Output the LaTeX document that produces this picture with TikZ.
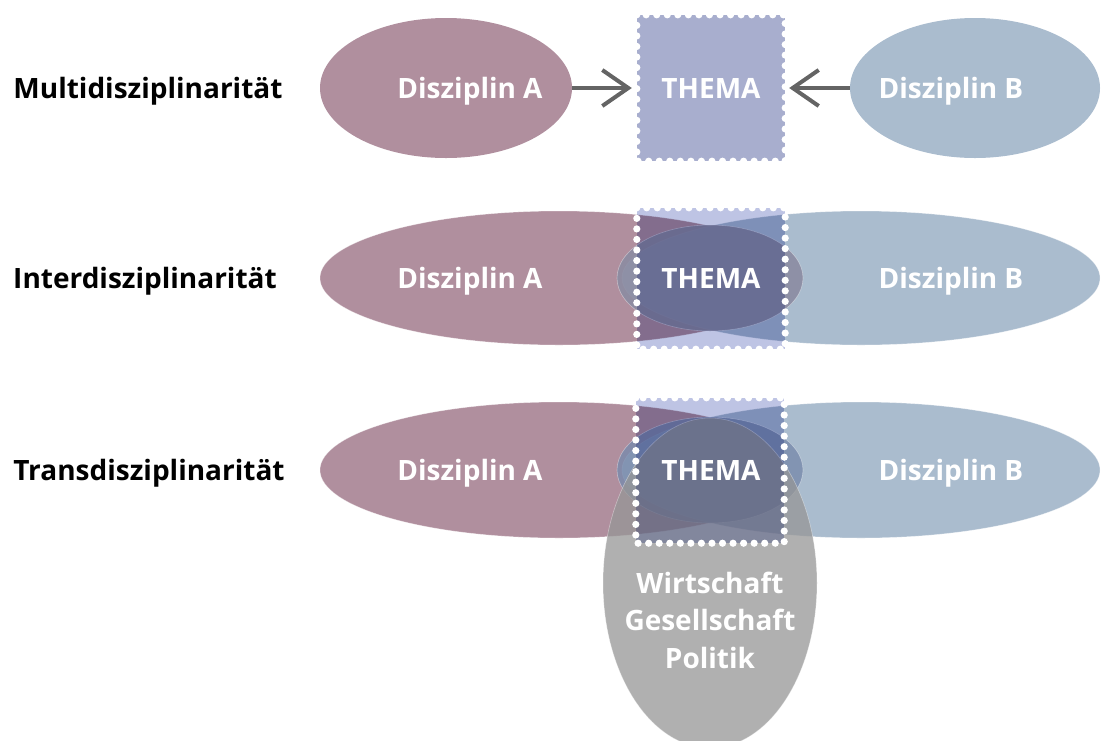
\documentclass[tikz,border=0pt]{standalone}
\usepackage{fontspec}
\setmainfont{Open Sans}
\usetikzlibrary{shapes.geometric,arrows.meta,decorations.markings}

\definecolor{discA}{RGB}{176,143,158}
\definecolor{discB}{RGB}{170,188,206}
\definecolor{themafill}{RGB}{168,174,206}
\definecolor{themamult}{RGB}{190,196,228}
\definecolor{themaoval}{RGB}{140,140,162}
\definecolor{themaovalT}{RGB}{120,138,172}
\definecolor{society}{RGB}{150,150,150}
\definecolor{arrowgray}{RGB}{100,100,100}

\begin{document}
\begin{tikzpicture}[x=1pt, y=-1pt,
  txt/.style={font=\bfseries\fontsize{28}{37.5}\selectfont, inner sep=0pt, anchor=base},
  wtxt/.style={txt, text=white},
  oval/.style={ellipse, inner sep=0pt},
  rim/.style={draw=white, draw opacity=0.4, line width=0.6pt},
  stampedge/.style={decorate, decoration={markings,
      mark=between positions 0 and 1 step 10.55pt with {\fill[white] (0,0) circle (3.6pt);}}},
  pointer/.style={draw=arrowgray, line width=4pt, -{Straight Barb[length=26pt,width=36pt]}}]

  \useasboundingbox (0,0) rectangle (1103,740);

  \node[oval, fill=discA, minimum width=252pt, minimum height=140pt] (multiA) at (446,88) {};
  \node[oval, fill=discB, minimum width=250pt, minimum height=140pt] (multiB) at (975,88) {};
  \node[fill=themafill, minimum width=148pt, minimum height=146pt] (multiT) at (711,88) {};
  \path[stampedge] (multiT.north west) rectangle (multiT.south east);
  \draw[pointer, shorten >=5pt] (multiA.east) -- (multiT.west);
  \draw[pointer, shorten >=4pt] (multiB.west) -- (multiT.east);

  \node[txt] (multi) at (148,98) {Multidisziplinarität};
  \node[wtxt] (multiAtext) at (470,98) {Disziplin A};
  \node[wtxt] (multiTtext) at (711,98) {THEMA};
  \node[wtxt] (multiBtext) at (951,98) {Disziplin B};


  \node[oval, fill=discA, rim, minimum width=478pt, minimum height=134pt] (interA) at (559,278) {};
  \node[oval, fill=discB, rim, minimum width=478pt, minimum height=134pt] (interB) at (861,278) {};
  \node[oval, fill=themaoval, fill opacity=0.9, rim, minimum width=186pt, minimum height=106pt] (interO) at (710,278) {};
  \begin{scope}[blend mode=multiply]
    \node[fill=themamult, minimum width=148pt, minimum height=141pt] (interT) at (711,278.5) {};
  \end{scope}
  \path[stampedge] (interT.north west) rectangle (interT.south east);

  \node[txt] (inter) at (145,288) {Interdisziplinarität};
  \node[wtxt] (interAtext) at (470,288) {Disziplin A};
  \node[wtxt] (interTtext) at (711,288) {THEMA};
  \node[wtxt] (interBtext) at (951,288) {Disziplin B};


  \node[oval, fill=discA, rim, minimum width=478pt, minimum height=136pt] (transA) at (559,470) {};
  \node[oval, fill=discB, rim, minimum width=478pt, minimum height=136pt] (transB) at (861,470) {};
  \node[oval, fill=themaovalT, fill opacity=0.8, rim, minimum width=186pt, minimum height=106pt] (transO) at (710,470) {};
  \node[oval, fill=society, fill opacity=0.75, rim, minimum width=214pt, minimum height=330pt] (transG) at (710,583) {};
  \begin{scope}[blend mode=multiply]
    \node[fill=themamult, minimum width=148pt, minimum height=145pt] (transT) at (710,470.5) {};
  \end{scope}
  \path[stampedge] (transT.north west) rectangle (transT.south east);

  \node[txt] (trans) at (149,480) {Transdisziplinarität};
  \node[wtxt] (transAtext) at (470,480) {Disziplin A};
  \node[wtxt] (transTtext) at (711,480) {THEMA};
  \node[wtxt] (transBtext) at (951,480) {Disziplin B};
  \node[wtxt, align=center] (transGtext) at (710,668) {Wirtschaft\\Gesellschaft\\Politik};

\end{tikzpicture}
\end{document}
